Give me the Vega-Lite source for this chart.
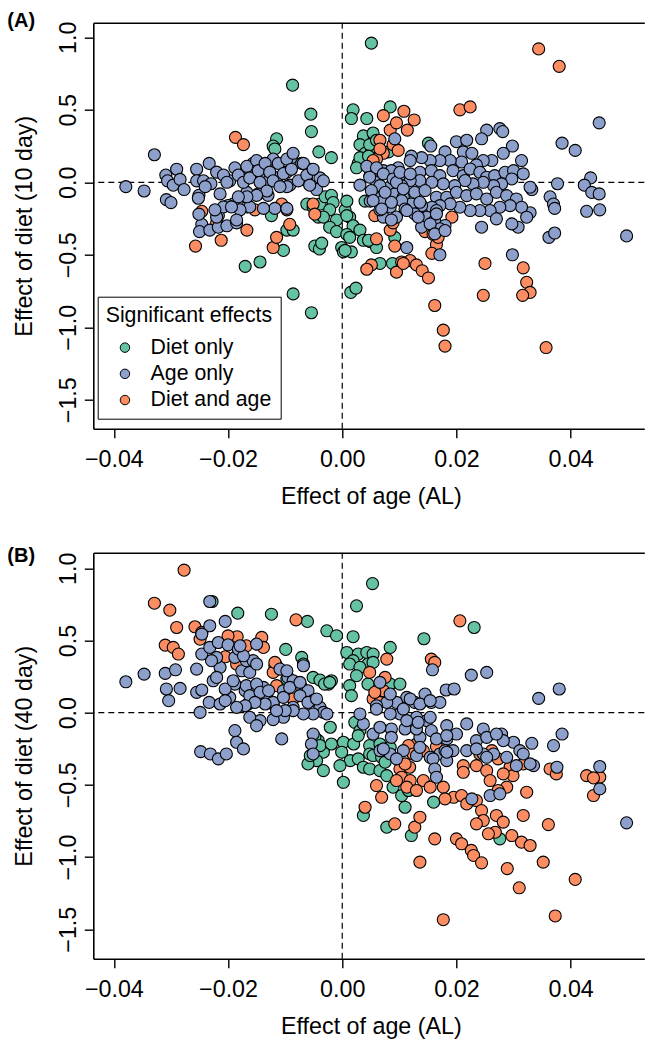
{
"$schema": "https://vega.github.io/schema/vega-lite/v6.json",
"background": "white",
"padding": {"left": 7.3, "top": 10.7, "right": 0, "bottom": 0},
"autosize": {"type": "pad"},
"spacing": 124,
"bounds": "flush",
"config": {"font": "Liberation Sans", "view": {"stroke": null}, "axis": {"grid": false}},
"datasets": {
"a": [
{"age":0.0051,"diet":0.96,"sig":"Diet only"},{"age":-0.0087,"diet":0.67,"sig":"Diet only"},{"age":-0.0055,"diet":0.47,"sig":"Diet only"},{"age":-0.0054,"diet":0.35,"sig":"Diet only"},{"age":-0.0041,"diet":0.21,"sig":"Diet only"},{"age":-0.0115,"diet":0.30,"sig":"Diet only"},{"age":-0.0121,"diet":0.25,"sig":"Diet only"},{"age":-0.0118,"diet":0.23,"sig":"Diet only"},{"age":-0.0124,"diet":-0.23,"sig":"Diet only"},{"age":-0.0097,"diet":-0.33,"sig":"Diet only"},{"age":-0.0086,"diet":-0.33,"sig":"Diet only"},{"age":-0.0103,"diet":-0.47,"sig":"Diet only"},{"age":-0.0062,"diet":-0.15,"sig":"Diet only"},{"age":-0.0042,"diet":-0.24,"sig":"Diet only"},{"age":-0.0048,"diet":-0.44,"sig":"Diet only"},{"age":-0.0040,"diet":-0.46,"sig":"Diet only"},{"age":-0.0036,"diet":-0.42,"sig":"Diet only"},{"age":-0.0144,"diet":-0.55,"sig":"Diet only"},{"age":-0.0170,"diet":-0.58,"sig":"Diet only"},{"age":-0.0086,"diet":-0.77,"sig":"Diet only"},{"age":-0.0054,"diet":-0.90,"sig":"Diet only"},{"age":-0.0019,"diet":0.17,"sig":"Diet only"},{"age":-0.0051,"diet":-0.17,"sig":"Diet only"},{"age":-0.0039,"diet":-0.15,"sig":"Diet only"},{"age":-0.0030,"diet":-0.10,"sig":"Diet only"},{"age":-0.0019,"diet":-0.09,"sig":"Diet only"},{"age":-0.0016,"diet":-0.14,"sig":"Diet only"},{"age":-0.0022,"diet":-0.19,"sig":"Diet only"},{"age":-0.0033,"diet":-0.24,"sig":"Diet only"},{"age":-0.0010,"diet":-0.26,"sig":"Diet only"},{"age":0.0005,"diet":-0.19,"sig":"Diet only"},{"age":0.0008,"diet":-0.13,"sig":"Diet only"},{"age":0.0013,"diet":-0.24,"sig":"Diet only"},{"age":0.0019,"diet":-0.30,"sig":"Diet only"},{"age":-0.0022,"diet":-0.31,"sig":"Diet only"},{"age":-0.0010,"diet":-0.34,"sig":"Diet only"},{"age":0.0008,"diet":-0.36,"sig":"Diet only"},{"age":0.0031,"diet":-0.33,"sig":"Diet only"},{"age":-0.0001,"diet":-0.45,"sig":"Diet only"},{"age":0.0002,"diet":-0.48,"sig":"Diet only"},{"age":0.0016,"diet":-0.48,"sig":"Diet only"},{"age":0.0037,"diet":-0.40,"sig":"Diet only"},{"age":0.0049,"diet":-0.41,"sig":"Diet only"},{"age":0.0060,"diet":-0.45,"sig":"Diet only"},{"age":0.0066,"diet":-0.56,"sig":"Diet only"},{"age":0.0088,"diet":-0.56,"sig":"Diet only"},{"age":0.0019,"diet":0.50,"sig":"Diet only"},{"age":0.0016,"diet":0.44,"sig":"Diet only"},{"age":0.0043,"diet":0.44,"sig":"Diet only"},{"age":0.0084,"diet":0.52,"sig":"Diet only"},{"age":0.0037,"diet":0.32,"sig":"Diet only"},{"age":0.0031,"diet":0.26,"sig":"Diet only"},{"age":0.0040,"diet":0.20,"sig":"Diet only"},{"age":0.0028,"diet":0.13,"sig":"Diet only"},{"age":0.0051,"diet":0.24,"sig":"Diet only"},{"age":0.0054,"diet":0.34,"sig":"Diet only"},{"age":0.0048,"diet":0.26,"sig":"Diet only"},{"age":0.0060,"diet":0.29,"sig":"Diet only"},{"age":0.0031,"diet":0.17,"sig":"Diet only"},{"age":0.0025,"diet":0.10,"sig":"Diet only"},{"age":0.0046,"diet":0.18,"sig":"Diet only"},{"age":0.0081,"diet":0.21,"sig":"Diet only"},{"age":0.0151,"diet":0.27,"sig":"Diet only"},{"age":0.0008,"diet":-0.23,"sig":"Diet only"},{"age":0.0013,"diet":-0.38,"sig":"Diet only"},{"age":0.0046,"diet":-0.40,"sig":"Diet only"},{"age":0.0092,"diet":-0.38,"sig":"Diet only"},{"age":0.0005,"diet":-0.47,"sig":"Diet only"},{"age":0.0040,"diet":-0.13,"sig":"Diet only"},{"age":0.0015,"diet":-0.76,"sig":"Diet only"},{"age":0.0024,"diet":-0.73,"sig":"Diet only"},
{"age":-0.0187,"diet":0.31,"sig":"Diet and age"},{"age":-0.0173,"diet":0.26,"sig":"Diet and age"},{"age":-0.0246,"diet":-0.20,"sig":"Diet and age"},{"age":-0.0220,"diet":-0.28,"sig":"Diet and age"},{"age":-0.0167,"diet":-0.33,"sig":"Diet and age"},{"age":-0.0153,"diet":-0.19,"sig":"Diet and age"},{"age":-0.0212,"diet":-0.40,"sig":"Diet and age"},{"age":-0.0257,"diet":-0.44,"sig":"Diet and age"},{"age":-0.0121,"diet":-0.45,"sig":"Diet and age"},{"age":-0.0115,"diet":-0.38,"sig":"Diet and age"},{"age":-0.0106,"diet":-0.15,"sig":"Diet and age"},{"age":-0.0092,"diet":-0.29,"sig":"Diet and age"},{"age":-0.0051,"diet":-0.15,"sig":"Diet and age"},{"age":-0.0097,"diet":-0.19,"sig":"Diet and age"},{"age":-0.0048,"diet":-0.22,"sig":"Diet and age"},{"age":0.0060,"diet":-0.39,"sig":"Diet and age"},{"age":0.0092,"diet":-0.44,"sig":"Diet and age"},{"age":0.0072,"diet":0.46,"sig":"Diet and age"},{"age":0.0084,"diet":0.36,"sig":"Diet and age"},{"age":0.0095,"diet":0.41,"sig":"Diet and age"},{"age":0.0066,"diet":0.29,"sig":"Diet and age"},{"age":0.0072,"diet":0.20,"sig":"Diet and age"},{"age":0.0060,"diet":0.16,"sig":"Diet and age"},{"age":0.0344,"diet":0.92,"sig":"Diet and age"},{"age":0.0380,"diet":0.80,"sig":"Diet and age"},{"age":0.0108,"diet":0.49,"sig":"Diet and age"},{"age":0.0126,"diet":0.43,"sig":"Diet and age"},{"age":0.0114,"diet":0.36,"sig":"Diet and age"},{"age":0.0206,"diet":0.50,"sig":"Diet and age"},{"age":0.0224,"diet":0.52,"sig":"Diet and age"},{"age":0.0089,"diet":0.26,"sig":"Diet and age"},{"age":0.0098,"diet":0.22,"sig":"Diet and age"},{"age":0.0054,"diet":0.15,"sig":"Diet and age"},{"age":0.0066,"diet":0.23,"sig":"Diet and age"},{"age":0.0057,"diet":-0.23,"sig":"Diet and age"},{"age":0.0084,"diet":-0.33,"sig":"Diet and age"},{"age":0.0089,"diet":-0.28,"sig":"Diet and age"},{"age":0.0139,"diet":-0.25,"sig":"Diet and age"},{"age":0.0145,"diet":-0.34,"sig":"Diet and age"},{"age":0.0159,"diet":-0.36,"sig":"Diet and age"},{"age":0.0165,"diet":-0.43,"sig":"Diet and age"},{"age":0.0168,"diet":-0.38,"sig":"Diet and age"},{"age":0.0157,"diet":-0.49,"sig":"Diet and age"},{"age":0.0192,"diet":-0.24,"sig":"Diet and age"},{"age":0.0119,"diet":-0.54,"sig":"Diet and age"},{"age":0.0104,"diet":-0.55,"sig":"Diet and age"},{"age":0.0130,"diet":-0.57,"sig":"Diet and age"},{"age":0.0051,"diet":-0.57,"sig":"Diet and age"},{"age":0.0250,"diet":-0.56,"sig":"Diet and age"},{"age":0.0317,"diet":-0.59,"sig":"Diet and age"},{"age":0.0043,"diet":-0.60,"sig":"Diet and age"},{"age":0.0095,"diet":-0.62,"sig":"Diet and age"},{"age":0.0107,"diet":-0.56,"sig":"Diet and age"},{"age":0.0140,"diet":-0.61,"sig":"Diet and age"},{"age":0.0151,"diet":-0.66,"sig":"Diet and age"},{"age":0.0162,"diet":-0.85,"sig":"Diet and age"},{"age":0.0177,"diet":-1.02,"sig":"Diet and age"},{"age":0.0180,"diet":-1.13,"sig":"Diet and age"},{"age":0.0247,"diet":-0.78,"sig":"Diet and age"},{"age":0.0323,"diet":-0.69,"sig":"Diet and age"},{"age":0.0329,"diet":-0.76,"sig":"Diet and age"},{"age":0.0316,"diet":-0.78,"sig":"Diet and age"},{"age":0.0357,"diet":-1.14,"sig":"Diet and age"},
{"age":-0.0379,"diet":-0.03,"sig":"Age only"},{"age":-0.0347,"diet":-0.06,"sig":"Age only"},{"age":-0.0329,"diet":0.19,"sig":"Age only"},{"age":-0.0309,"diet":0.05,"sig":"Age only"},{"age":-0.0306,"diet":0.01,"sig":"Age only"},{"age":-0.0296,"diet":-0.02,"sig":"Age only"},{"age":-0.0290,"diet":0.09,"sig":"Age only"},{"age":-0.0284,"diet":0.02,"sig":"Age only"},{"age":-0.0277,"diet":-0.05,"sig":"Age only"},{"age":-0.0308,"diet":-0.12,"sig":"Age only"},{"age":-0.0300,"diet":-0.14,"sig":"Age only"},{"age":-0.0255,"diet":0.09,"sig":"Age only"},{"age":-0.0255,"diet":0.01,"sig":"Age only"},{"age":-0.0243,"diet":0.01,"sig":"Age only"},{"age":-0.0233,"diet":0.13,"sig":"Age only"},{"age":-0.0230,"diet":-0.01,"sig":"Age only"},{"age":-0.0251,"diet":-0.09,"sig":"Age only"},{"age":-0.0246,"diet":-0.29,"sig":"Age only"},{"age":-0.0250,"diet":-0.34,"sig":"Age only"},{"age":-0.0232,"diet":-0.33,"sig":"Age only"},{"age":-0.0217,"diet":-0.31,"sig":"Age only"},{"age":-0.0202,"diet":-0.30,"sig":"Age only"},{"age":-0.0185,"diet":-0.28,"sig":"Age only"},{"age":-0.0214,"diet":-0.08,"sig":"Age only"},{"age":-0.0197,"diet":0.01,"sig":"Age only"},{"age":-0.0191,"diet":-0.15,"sig":"Age only"},{"age":-0.0167,"diet":-0.07,"sig":"Age only"},{"age":-0.0162,"diet":0.06,"sig":"Age only"},{"age":-0.0156,"diet":0.13,"sig":"Age only"},{"age":-0.0144,"diet":0.06,"sig":"Age only"},{"age":-0.0147,"diet":-0.08,"sig":"Age only"},{"age":-0.0132,"diet":0.00,"sig":"Age only"},{"age":-0.0130,"diet":-0.09,"sig":"Age only"},{"age":-0.0121,"diet":0.16,"sig":"Age only"},{"age":-0.0112,"diet":0.13,"sig":"Age only"},{"age":-0.0115,"diet":0.03,"sig":"Age only"},{"age":-0.0097,"diet":0.07,"sig":"Age only"},{"age":-0.0089,"diet":0.17,"sig":"Age only"},{"age":-0.0092,"diet":-0.02,"sig":"Age only"},{"age":-0.0071,"diet":0.13,"sig":"Age only"},{"age":-0.0062,"diet":0.01,"sig":"Age only"},{"age":-0.0054,"diet":0.09,"sig":"Age only"},{"age":-0.0039,"diet":0.03,"sig":"Age only"},{"age":-0.0045,"diet":-0.05,"sig":"Age only"},{"age":-0.0118,"diet":-0.18,"sig":"Age only"},{"age":-0.0097,"diet":-0.18,"sig":"Age only"},{"age":-0.0138,"diet":-0.18,"sig":"Age only"},{"age":-0.0167,"diet":-0.17,"sig":"Age only"},{"age":-0.0200,"diet":-0.16,"sig":"Age only"},{"age":-0.0217,"diet":-0.23,"sig":"Age only"},
{"age":-0.0252,"diet":-0.11,"sig":"Age only"},{"age":-0.0240,"diet":-0.03,"sig":"Age only"},{"age":-0.0220,"diet":0.07,"sig":"Age only"},{"age":-0.0208,"diet":0.05,"sig":"Age only"},{"age":-0.0202,"diet":0.00,"sig":"Age only"},{"age":-0.0188,"diet":0.10,"sig":"Age only"},{"age":-0.0182,"diet":0.05,"sig":"Age only"},{"age":-0.0173,"diet":0.00,"sig":"Age only"},{"age":-0.0167,"diet":0.11,"sig":"Age only"},{"age":-0.0162,"diet":0.03,"sig":"Age only"},{"age":-0.0150,"diet":0.15,"sig":"Age only"},{"age":-0.0147,"diet":0.08,"sig":"Age only"},{"age":-0.0144,"diet":0.00,"sig":"Age only"},{"age":-0.0135,"diet":0.13,"sig":"Age only"},{"age":-0.0127,"diet":0.07,"sig":"Age only"},{"age":-0.0132,"diet":-0.06,"sig":"Age only"},{"age":-0.0121,"diet":0.01,"sig":"Age only"},{"age":-0.0103,"diet":0.06,"sig":"Age only"},{"age":-0.0097,"diet":0.16,"sig":"Age only"},{"age":-0.0089,"diet":0.09,"sig":"Age only"},{"age":-0.0086,"diet":0.20,"sig":"Age only"},{"age":-0.0077,"diet":0.01,"sig":"Age only"},{"age":-0.0068,"diet":0.13,"sig":"Age only"},{"age":-0.0062,"diet":0.05,"sig":"Age only"},{"age":-0.0057,"diet":-0.02,"sig":"Age only"},{"age":-0.0051,"diet":0.09,"sig":"Age only"},{"age":-0.0033,"diet":0.01,"sig":"Age only"},{"age":-0.0097,"diet":-0.03,"sig":"Age only"},{"age":-0.0109,"diet":-0.03,"sig":"Age only"},{"age":-0.0150,"diet":-0.09,"sig":"Age only"},{"age":-0.0162,"diet":-0.17,"sig":"Age only"},{"age":-0.0179,"diet":-0.19,"sig":"Age only"},{"age":-0.0185,"diet":-0.26,"sig":"Age only"},{"age":-0.0220,"diet":-0.24,"sig":"Age only"},{"age":-0.0251,"diet":-0.22,"sig":"Age only"},{"age":-0.0167,"diet":-0.10,"sig":"Age only"},{"age":-0.0182,"diet":-0.10,"sig":"Age only"},{"age":-0.0208,"diet":-0.17,"sig":"Age only"},{"age":-0.0223,"diet":-0.19,"sig":"Age only"},{"age":-0.0194,"diet":-0.17,"sig":"Age only"},
{"age":0.0031,"diet":-0.02,"sig":"Age only"},{"age":0.0049,"diet":0.05,"sig":"Age only"},{"age":0.0060,"diet":0.00,"sig":"Age only"},{"age":0.0072,"diet":0.08,"sig":"Age only"},{"age":0.0084,"diet":-0.03,"sig":"Age only"},{"age":0.0095,"diet":0.03,"sig":"Age only"},{"age":0.0049,"diet":-0.13,"sig":"Age only"},{"age":0.0066,"diet":-0.11,"sig":"Age only"},{"age":0.0084,"diet":-0.17,"sig":"Age only"},{"age":0.0072,"diet":-0.24,"sig":"Age only"},{"age":0.0095,"diet":-0.24,"sig":"Age only"},{"age":0.0066,"diet":-0.19,"sig":"Age only"},{"age":0.0043,"diet":0.11,"sig":"Age only"},{"age":0.0060,"diet":0.10,"sig":"Age only"},
{"age":0.0450,"diet":0.41,"sig":"Age only"},{"age":0.0385,"diet":0.27,"sig":"Age only"},{"age":0.0408,"diet":0.22,"sig":"Age only"},{"age":0.0253,"diet":0.36,"sig":"Age only"},{"age":0.0276,"diet":0.37,"sig":"Age only"},{"age":0.0281,"diet":0.35,"sig":"Age only"},{"age":0.0244,"diet":0.30,"sig":"Age only"},{"age":0.0200,"diet":0.28,"sig":"Age only"},{"age":0.0218,"diet":0.29,"sig":"Age only"},{"age":0.0298,"diet":0.25,"sig":"Age only"},{"age":0.0155,"diet":0.25,"sig":"Age only"},{"age":0.0435,"diet":0.03,"sig":"Age only"},{"age":0.0424,"diet":-0.02,"sig":"Age only"},{"age":0.0437,"diet":-0.07,"sig":"Age only"},{"age":0.0450,"diet":-0.08,"sig":"Age only"},{"age":0.0377,"diet":-0.01,"sig":"Age only"},{"age":0.0332,"diet":-0.05,"sig":"Age only"},{"age":0.0428,"diet":-0.20,"sig":"Age only"},{"age":0.0451,"diet":-0.19,"sig":"Age only"},{"age":0.0364,"diet":-0.10,"sig":"Age only"},{"age":0.0370,"diet":-0.15,"sig":"Age only"},{"age":0.0372,"diet":-0.18,"sig":"Age only"},{"age":0.0498,"diet":-0.37,"sig":"Age only"},{"age":0.0362,"diet":-0.38,"sig":"Age only"},{"age":0.0372,"diet":-0.35,"sig":"Age only"},{"age":0.0244,"diet":-0.31,"sig":"Age only"},{"age":0.0298,"diet":-0.50,"sig":"Age only"},{"age":0.0113,"diet":-0.45,"sig":"Age only"},{"age":0.0308,"diet":-0.31,"sig":"Age only"},{"age":0.0329,"diet":-0.21,"sig":"Age only"},
{"age":0.0180,"diet":0.21,"sig":"Age only"},{"age":0.0212,"diet":0.21,"sig":"Age only"},{"age":0.0227,"diet":0.20,"sig":"Age only"},{"age":0.0282,"diet":0.20,"sig":"Age only"},{"age":0.0314,"diet":0.15,"sig":"Age only"},{"age":0.0262,"diet":0.15,"sig":"Age only"},{"age":0.0247,"diet":0.15,"sig":"Age only"},{"age":0.0235,"diet":0.12,"sig":"Age only"},{"age":0.0209,"diet":0.14,"sig":"Age only"},{"age":0.0189,"diet":0.15,"sig":"Age only"},{"age":0.0171,"diet":0.15,"sig":"Age only"},{"age":0.0154,"diet":0.15,"sig":"Age only"},{"age":0.0139,"diet":0.17,"sig":"Age only"},{"age":0.0121,"diet":0.18,"sig":"Age only"},{"age":0.0119,"diet":0.15,"sig":"Age only"},{"age":0.0098,"diet":0.10,"sig":"Age only"},{"age":0.0086,"diet":0.08,"sig":"Age only"},{"age":0.0048,"diet":0.035,"sig":"Age only"},{"age":0.0072,"diet":0.058,"sig":"Age only"},{"age":0.0089,"diet":0.023,"sig":"Age only"},{"age":0.0110,"diet":0.035,"sig":"Age only"},{"age":0.0121,"diet":0.046,"sig":"Age only"},{"age":0.0136,"diet":0.069,"sig":"Age only"},{"age":0.0156,"diet":0.080,"sig":"Age only"},{"age":0.0171,"diet":0.046,"sig":"Age only"},{"age":0.0194,"diet":0.080,"sig":"Age only"},{"age":0.0212,"diet":0.046,"sig":"Age only"},{"age":0.0224,"diet":0.092,"sig":"Age only"},{"age":0.0241,"diet":0.069,"sig":"Age only"},{"age":0.0253,"diet":0.035,"sig":"Age only"},{"age":0.0267,"diet":0.046,"sig":"Age only"},{"age":0.0285,"diet":0.069,"sig":"Age only"},{"age":0.0300,"diet":0.080,"sig":"Age only"},{"age":0.0297,"diet":0.023,"sig":"Age only"},{"age":0.0317,"diet":0.058,"sig":"Age only"},{"age":0.0279,"diet":-0.011,"sig":"Age only"},{"age":0.0265,"diet":-0.023,"sig":"Age only"},{"age":0.0247,"diet":0.000,"sig":"Age only"},{"age":0.0229,"diet":-0.011,"sig":"Age only"},{"age":0.0215,"diet":0.012,"sig":"Age only"},{"age":0.0197,"diet":-0.023,"sig":"Age only"},{"age":0.0177,"diet":-0.011,"sig":"Age only"},{"age":0.0157,"diet":0.000,"sig":"Age only"},{"age":0.0136,"diet":0.012,"sig":"Age only"},{"age":0.0119,"diet":0.012,"sig":"Age only"},{"age":0.0104,"diet":-0.023,"sig":"Age only"},{"age":0.0066,"diet":-0.023,"sig":"Age only"},{"age":0.0051,"diet":-0.057,"sig":"Age only"},{"age":0.0072,"diet":-0.126,"sig":"Age only"},{"age":0.0092,"diet":-0.080,"sig":"Age only"},{"age":0.0107,"diet":-0.103,"sig":"Age only"},{"age":0.0127,"diet":-0.069,"sig":"Age only"},{"age":0.0145,"diet":-0.057,"sig":"Age only"},{"age":0.0165,"diet":-0.103,"sig":"Age only"},{"age":0.0183,"diet":-0.103,"sig":"Age only"},{"age":0.0200,"diet":-0.069,"sig":"Age only"},{"age":0.0218,"diet":-0.092,"sig":"Age only"},{"age":0.0235,"diet":-0.080,"sig":"Age only"},{"age":0.0253,"diet":-0.115,"sig":"Age only"},{"age":0.0270,"diet":-0.069,"sig":"Age only"},{"age":0.0288,"diet":-0.092,"sig":"Age only"},{"age":0.0305,"diet":-0.115,"sig":"Age only"},{"age":0.0329,"diet":-0.034,"sig":"Age only"},{"age":0.0314,"diet":-0.172,"sig":"Age only"},{"age":0.0294,"diet":-0.161,"sig":"Age only"},{"age":0.0276,"diet":-0.172,"sig":"Age only"},{"age":0.0259,"diet":-0.195,"sig":"Age only"},{"age":0.0241,"diet":-0.195,"sig":"Age only"},{"age":0.0224,"diet":-0.195,"sig":"Age only"},{"age":0.0206,"diet":-0.172,"sig":"Age only"},{"age":0.0189,"diet":-0.149,"sig":"Age only"},{"age":0.0171,"diet":-0.161,"sig":"Age only"},{"age":0.0157,"diet":-0.172,"sig":"Age only"},{"age":0.0139,"diet":-0.161,"sig":"Age only"},{"age":0.0121,"diet":-0.149,"sig":"Age only"},{"age":0.0104,"diet":-0.126,"sig":"Age only"},{"age":0.0086,"diet":-0.138,"sig":"Age only"},{"age":0.0069,"diet":-0.184,"sig":"Age only"},{"age":0.0086,"diet":-0.26,"sig":"Age only"},{"age":0.0110,"diet":-0.184,"sig":"Age only"},{"age":0.0127,"diet":-0.218,"sig":"Age only"},{"age":0.0148,"diet":-0.241,"sig":"Age only"},{"age":0.0165,"diet":-0.195,"sig":"Age only"},{"age":0.0162,"diet":-0.264,"sig":"Age only"},{"age":0.0180,"diet":-0.298,"sig":"Age only"},{"age":0.0171,"diet":-0.321,"sig":"Age only"},{"age":0.0139,"diet":-0.310,"sig":"Age only"},{"age":0.0270,"diet":-0.252,"sig":"Age only"},{"age":0.0297,"diet":-0.287,"sig":"Age only"},{"age":0.0323,"diet":-0.241,"sig":"Age only"},{"age":0.0092,"diet":0.30,"sig":"Age only"},{"age":0.0171,"diet":-0.50,"sig":"Age only"},
{"age":0.0054,"diet":-0.126,"sig":"Age only"},{"age":0.0075,"diet":-0.069,"sig":"Age only"},{"age":0.0095,"diet":0.0,"sig":"Age only"},{"age":0.0107,"diet":-0.046,"sig":"Age only"},{"age":0.0101,"diet":0.069,"sig":"Age only"},{"age":0.0119,"diet":0.058,"sig":"Age only"},{"age":0.0136,"diet":-0.138,"sig":"Age only"},{"age":0.0113,"diet":-0.195,"sig":"Age only"},{"age":0.0133,"diet":-0.24,"sig":"Age only"},{"age":0.0154,"diet":-0.287,"sig":"Age only"},{"age":0.0165,"diet":-0.218,"sig":"Age only"},{"age":0.0162,"diet":-0.356,"sig":"Age only"},{"age":0.0180,"diet":-0.333,"sig":"Age only"}
],
"b": [
{"age":-0.0228,"diet":0.77,"sig":"Diet only"},{"age":-0.0183,"diet":0.689,"sig":"Diet only"},{"age":-0.0124,"diet":0.682,"sig":"Diet only"},{"age":-0.0061,"diet":0.632,"sig":"Diet only"},{"age":-0.0027,"diet":0.567,"sig":"Diet only"},{"age":-0.0099,"diet":0.438,"sig":"Diet only"},{"age":-0.0071,"diet":0.383,"sig":"Diet only"},{"age":-0.0116,"diet":0.332,"sig":"Diet only"},{"age":-0.0051,"diet":0.244,"sig":"Diet only"},{"age":-0.0039,"diet":0.226,"sig":"Diet only"},{"age":-0.0024,"diet":0.198,"sig":"Diet only"},{"age":-0.0042,"diet":-0.194,"sig":"Diet only"},{"age":-0.0048,"diet":-0.263,"sig":"Diet only"},{"age":-0.0033,"diet":-0.274,"sig":"Diet only"},{"age":-0.0045,"diet":-0.332,"sig":"Diet only"},{"age":-0.0060,"diet":-0.355,"sig":"Diet only"},{"age":-0.0033,"diet":-0.401,"sig":"Diet only"},{"age":0.0053,"diet":0.894,"sig":"Diet only"},{"age":0.0025,"diet":0.740,"sig":"Diet only"},{"age":-0.0010,"diet":0.533,"sig":"Diet only"},{"age":0.0019,"diet":0.526,"sig":"Diet only"},{"age":-0.0068,"diet":0.337,"sig":"Diet only"},{"age":0.0008,"diet":0.417,"sig":"Diet only"},{"age":0.0028,"diet":0.406,"sig":"Diet only"},{"age":0.0043,"diet":0.417,"sig":"Diet only"},{"age":0.0054,"diet":0.406,"sig":"Diet only"},{"age":0.0019,"diet":0.36,"sig":"Diet only"},{"age":0.0013,"diet":0.337,"sig":"Diet only"},{"age":0.0045,"diet":0.337,"sig":"Diet only"},{"age":0.0031,"diet":0.314,"sig":"Diet only"},{"age":0.0054,"diet":0.348,"sig":"Diet only"},{"age":0.0084,"diet":0.452,"sig":"Diet only"},{"age":-0.0118,"diet":0.325,"sig":"Diet only"},{"age":-0.0097,"diet":0.233,"sig":"Diet only"},{"age":-0.0031,"diet":0.198,"sig":"Diet only"},{"age":-0.0019,"diet":0.221,"sig":"Diet only"},{"age":0.0013,"diet":0.187,"sig":"Diet only"},{"age":0.0025,"diet":0.256,"sig":"Diet only"},{"age":0.0045,"diet":0.198,"sig":"Diet only"},{"age":0.0084,"diet":0.198,"sig":"Diet only"},{"age":0.0016,"diet":0.118,"sig":"Diet only"},{"age":-0.0021,"diet":-0.101,"sig":"Diet only"},{"age":0.0022,"diet":-0.067,"sig":"Diet only"},{"age":0.0031,"diet":-0.124,"sig":"Diet only"},{"age":-0.0048,"diet":-0.171,"sig":"Diet only"},{"age":-0.0039,"diet":-0.228,"sig":"Diet only"},{"age":-0.0019,"diet":-0.217,"sig":"Diet only"},{"age":0.0002,"diet":-0.205,"sig":"Diet only"},{"age":-0.0001,"diet":-0.274,"sig":"Diet only"},{"age":0.0020,"diet":-0.217,"sig":"Diet only"},{"age":0.0028,"diet":-0.159,"sig":"Diet only"},{"age":0.0048,"diet":-0.228,"sig":"Diet only"},{"age":0.0066,"diet":-0.217,"sig":"Diet only"},{"age":0.0084,"diet":-0.240,"sig":"Diet only"},{"age":0.0048,"diet":-0.286,"sig":"Diet only"},{"age":-0.0056,"diet":-0.297,"sig":"Diet only"},{"age":0.0143,"diet":0.512,"sig":"Diet only"},{"age":0.0231,"diet":0.590,"sig":"Diet only"},{"age":0.0101,"diet":0.198,"sig":"Diet only"},{"age":-0.0022,"diet":0.210,"sig":"Diet only"},{"age":0.0014,"diet":-0.332,"sig":"Diet only"},{"age":0.0028,"diet":-0.320,"sig":"Diet only"},{"age":0.0037,"diet":-0.378,"sig":"Diet only"},{"age":0.0048,"diet":-0.390,"sig":"Diet only"},{"age":0.0066,"diet":-0.401,"sig":"Diet only"},{"age":0.0054,"diet":-0.297,"sig":"Diet only"},{"age":0.0069,"diet":-0.309,"sig":"Diet only"},{"age":0.0075,"diet":-0.343,"sig":"Diet only"},{"age":0.0078,"diet":-0.436,"sig":"Diet only"},{"age":0.0089,"diet":-0.516,"sig":"Diet only"},{"age":0.0104,"diet":-0.574,"sig":"Diet only"},{"age":0.0116,"diet":-0.539,"sig":"Diet only"},{"age":0.0160,"diet":-0.620,"sig":"Diet only"},{"age":0.0110,"diet":-0.655,"sig":"Diet only"},{"age":0.0037,"diet":-0.712,"sig":"Diet only"},{"age":0.0078,"diet":-0.793,"sig":"Diet only"},{"age":0.0121,"diet":-0.851,"sig":"Diet only"},{"age":0.0002,"diet":-0.482,"sig":"Diet only"},{"age":-0.0004,"diet":-0.367,"sig":"Diet only"},{"age":0.0276,"diet":-0.874,"sig":"Diet only"},
{"age":-0.0277,"diet":0.987,"sig":"Diet and age"},{"age":-0.0329,"diet":0.758,"sig":"Diet and age"},{"age":-0.0302,"diet":0.710,"sig":"Diet and age"},{"age":-0.0290,"diet":0.590,"sig":"Diet and age"},{"age":-0.0310,"diet":0.468,"sig":"Diet and age"},{"age":-0.0296,"diet":0.452,"sig":"Diet and age"},{"age":-0.0287,"diet":0.406,"sig":"Diet and age"},{"age":-0.0258,"diet":0.595,"sig":"Diet and age"},{"age":-0.0249,"diet":0.509,"sig":"Diet and age"},{"age":-0.0246,"diet":0.556,"sig":"Diet and age"},{"age":-0.0184,"diet":0.526,"sig":"Diet and age"},{"age":-0.0168,"diet":0.463,"sig":"Diet and age"},{"age":-0.0141,"diet":0.521,"sig":"Diet and age"},{"age":-0.0138,"diet":0.452,"sig":"Diet and age"},{"age":-0.0205,"diet":0.387,"sig":"Diet and age"},{"age":-0.0185,"diet":0.337,"sig":"Diet and age"},{"age":-0.0121,"diet":0.279,"sig":"Diet and age"},{"age":-0.0086,"diet":0.095,"sig":"Diet and age"},{"age":-0.0081,"diet":0.643,"sig":"Diet and age"},{"age":-0.0200,"diet":0.532,"sig":"Diet and age"},{"age":-0.0118,"diet":0.348,"sig":"Diet and age"},{"age":-0.0115,"diet":0.187,"sig":"Diet and age"},{"age":0.0078,"diet":0.371,"sig":"Diet and age"},{"age":0.0048,"diet":0.279,"sig":"Diet and age"},{"age":0.0072,"diet":0.152,"sig":"Diet and age"},{"age":0.0054,"diet":0.095,"sig":"Diet and age"},{"age":0.0066,"diet":0.071,"sig":"Diet and age"},{"age":0.0075,"diet":0.244,"sig":"Diet and age"},{"age":0.0206,"diet":0.636,"sig":"Diet and age"},{"age":0.0156,"diet":0.371,"sig":"Diet and age"},{"age":0.0162,"diet":0.348,"sig":"Diet and age"},{"age":0.0057,"diet":0.141,"sig":"Diet and age"},{"age":0.0165,"diet":-0.235,"sig":"Diet and age"},{"age":0.0130,"diet":-0.217,"sig":"Diet and age"},{"age":0.0262,"diet":-0.263,"sig":"Diet and age"},{"age":0.0364,"diet":-0.390,"sig":"Diet and age"},{"age":0.0428,"diet":-0.436,"sig":"Diet and age"},{"age":0.0451,"diet":-0.447,"sig":"Diet and age"},{"age":0.0212,"diet":-0.367,"sig":"Diet and age"},{"age":0.0235,"diet":-0.367,"sig":"Diet and age"},{"age":0.0101,"diet":-0.390,"sig":"Diet and age"},{"age":0.0118,"diet":-0.378,"sig":"Diet and age"},{"age":0.0294,"diet":-0.378,"sig":"Diet and age"},{"age":0.0299,"diet":-0.436,"sig":"Diet and age"},{"age":0.0116,"diet":-0.228,"sig":"Diet and age"},{"age":0.0124,"diet":-0.286,"sig":"Diet and age"},{"age":0.0142,"diet":-0.263,"sig":"Diet and age"},{"age":0.0110,"diet":-0.355,"sig":"Diet and age"},{"age":0.0104,"diet":-0.447,"sig":"Diet and age"},{"age":0.0095,"diet":-0.470,"sig":"Diet and age"},{"age":0.0119,"diet":-0.470,"sig":"Diet and age"},{"age":0.0142,"diet":-0.470,"sig":"Diet and age"},{"age":0.0113,"diet":-0.516,"sig":"Diet and age"},{"age":0.0130,"diet":-0.539,"sig":"Diet and age"},{"age":0.0154,"diet":-0.516,"sig":"Diet and age"},{"age":0.0177,"diet":-0.516,"sig":"Diet and age"},{"age":0.0195,"diet":-0.586,"sig":"Diet and age"},{"age":0.0180,"diet":-0.597,"sig":"Diet and age"},{"age":0.0209,"diet":-0.574,"sig":"Diet and age"},{"age":0.0218,"diet":-0.632,"sig":"Diet and age"},{"age":0.0235,"diet":-0.609,"sig":"Diet and age"},{"age":0.0244,"diet":-0.678,"sig":"Diet and age"},{"age":0.0247,"diet":-0.747,"sig":"Diet and age"},{"age":0.0235,"diet":-0.770,"sig":"Diet and age"},{"age":0.0212,"diet":-0.413,"sig":"Diet and age"},{"age":0.0253,"diet":-0.401,"sig":"Diet and age"},{"age":0.0273,"diet":-0.320,"sig":"Diet and age"},{"age":0.0241,"diet":-0.286,"sig":"Diet and age"},{"age":0.0282,"diet":-0.424,"sig":"Diet and age"},{"age":0.0288,"diet":-0.516,"sig":"Diet and age"},{"age":0.0323,"diet":-0.551,"sig":"Diet and age"},{"age":0.0273,"diet":-0.539,"sig":"Diet and age"},{"age":0.0259,"diet":-0.470,"sig":"Diet and age"},{"age":0.0317,"diet":-0.355,"sig":"Diet and age"},{"age":0.0375,"diet":-0.424,"sig":"Diet and age"},{"age":0.0440,"diet":-0.452,"sig":"Diet and age"},{"age":0.0440,"diet":-0.574,"sig":"Diet and age"},{"age":0.0060,"diet":-0.505,"sig":"Diet and age"},{"age":0.0069,"diet":-0.586,"sig":"Diet and age"},{"age":0.0040,"diet":-0.655,"sig":"Diet and age"},{"age":0.0092,"diet":-0.770,"sig":"Diet and age"},{"age":0.0127,"diet":-0.793,"sig":"Diet and age"},{"age":0.0136,"diet":-0.724,"sig":"Diet and age"},{"age":0.0162,"diet":-0.874,"sig":"Diet and age"},{"age":0.0200,"diet":-0.874,"sig":"Diet and age"},{"age":0.0209,"diet":-0.908,"sig":"Diet and age"},{"age":0.0226,"diet":-0.954,"sig":"Diet and age"},{"age":0.0230,"diet":-0.989,"sig":"Diet and age"},{"age":0.0244,"diet":-1.040,"sig":"Diet and age"},{"age":0.0270,"diet":-0.712,"sig":"Diet and age"},{"age":0.0282,"diet":-0.758,"sig":"Diet and age"},{"age":0.0268,"diet":-0.828,"sig":"Diet and age"},{"age":0.0256,"diet":-0.839,"sig":"Diet and age"},{"age":0.0297,"diet":-0.851,"sig":"Diet and age"},{"age":0.0314,"diet":-0.897,"sig":"Diet and age"},{"age":0.0329,"diet":-0.920,"sig":"Diet and age"},{"age":0.0317,"diet":-0.712,"sig":"Diet and age"},{"age":0.0361,"diet":-0.775,"sig":"Diet and age"},{"age":0.0352,"diet":-1.035,"sig":"Diet and age"},{"age":0.0136,"diet":-1.035,"sig":"Diet and age"},{"age":0.0289,"diet":-1.080,"sig":"Diet and age"},{"age":0.0177,"diet":-1.434,"sig":"Diet and age"},{"age":0.0373,"diet":-1.408,"sig":"Diet and age"},{"age":0.0408,"diet":-1.155,"sig":"Diet and age"},{"age":0.0310,"diet":-1.213,"sig":"Diet and age"},
{"age":-0.0379,"diet":0.214,"sig":"Age only"},{"age":-0.0347,"diet":0.267,"sig":"Age only"},{"age":-0.0310,"diet":0.272,"sig":"Age only"},{"age":-0.0292,"diet":0.297,"sig":"Age only"},{"age":-0.0308,"diet":0.164,"sig":"Age only"},{"age":-0.0304,"diet":0.083,"sig":"Age only"},{"age":-0.0284,"diet":0.168,"sig":"Age only"},{"age":-0.0255,"diet":0.302,"sig":"Age only"},{"age":-0.0255,"diet":0.141,"sig":"Age only"},{"age":-0.0249,"diet":0.002,"sig":"Age only"},{"age":-0.0246,"diet":0.157,"sig":"Age only"},{"age":-0.0233,"diet":0.071,"sig":"Age only"},{"age":-0.0214,"diet":0.060,"sig":"Age only"},{"age":-0.0226,"diet":0.221,"sig":"Age only"},{"age":-0.0214,"diet":0.314,"sig":"Age only"},{"age":-0.0220,"diet":0.383,"sig":"Age only"},{"age":-0.0229,"diet":0.360,"sig":"Age only"},{"age":-0.0246,"diet":0.406,"sig":"Age only"},{"age":-0.0232,"diet":0.452,"sig":"Age only"},{"age":-0.0232,"diet":0.602,"sig":"Age only"},{"age":-0.0246,"diet":0.544,"sig":"Age only"},{"age":-0.0232,"diet":0.770,"sig":"Age only"},{"age":-0.0205,"diet":0.632,"sig":"Age only"},{"age":-0.0217,"diet":0.486,"sig":"Age only"},{"age":-0.0200,"diet":0.470,"sig":"Age only"},{"age":-0.0188,"diet":0.383,"sig":"Age only"},{"age":-0.0182,"diet":0.440,"sig":"Age only"},{"age":-0.0176,"diet":0.290,"sig":"Age only"},{"age":-0.0168,"diet":0.360,"sig":"Age only"},{"age":-0.0156,"diet":0.360,"sig":"Age only"},{"age":-0.0150,"diet":0.475,"sig":"Age only"},{"age":-0.0188,"diet":0.198,"sig":"Age only"},{"age":-0.0170,"diet":0.152,"sig":"Age only"},{"age":-0.0165,"diet":0.060,"sig":"Age only"},{"age":-0.0156,"diet":0.129,"sig":"Age only"},{"age":-0.0138,"diet":0.175,"sig":"Age only"},{"age":-0.0132,"diet":0.106,"sig":"Age only"},{"age":-0.0121,"diet":0.060,"sig":"Age only"},{"age":-0.0103,"diet":0.152,"sig":"Age only"},{"age":-0.0095,"diet":0.244,"sig":"Age only"},{"age":-0.0109,"diet":0.302,"sig":"Age only"},{"age":-0.0086,"diet":0.221,"sig":"Age only"},{"age":-0.0071,"diet":0.175,"sig":"Age only"},{"age":-0.0060,"diet":0.152,"sig":"Age only"},{"age":-0.0051,"diet":0.083,"sig":"Age only"},{"age":-0.0039,"diet":0.037,"sig":"Age only"},{"age":-0.0086,"diet":0.037,"sig":"Age only"},{"age":-0.0103,"diet":-0.032,"sig":"Age only"},{"age":-0.0121,"diet":-0.048,"sig":"Age only"},{"age":-0.0144,"diet":-0.055,"sig":"Age only"},{"age":-0.0162,"diet":-0.032,"sig":"Age only"},{"age":-0.0150,"diet":-0.090,"sig":"Age only"},{"age":-0.0188,"diet":-0.124,"sig":"Age only"},{"age":-0.0185,"diet":-0.205,"sig":"Age only"},{"age":-0.0173,"diet":-0.251,"sig":"Age only"},{"age":-0.0248,"diet":-0.270,"sig":"Age only"},{"age":-0.0231,"diet":-0.286,"sig":"Age only"},{"age":-0.0217,"diet":-0.320,"sig":"Age only"},{"age":-0.0203,"diet":-0.286,"sig":"Age only"},{"age":-0.0106,"diet":-0.182,"sig":"Age only"},{"age":-0.0068,"diet":0.325,"sig":"Age only"},{"age":-0.0074,"diet":0.118,"sig":"Age only"},{"age":-0.0033,"diet":0.002,"sig":"Age only"},
{"age":-0.0168,"diet":0.187,"sig":"Age only"},{"age":-0.0150,"diet":0.198,"sig":"Age only"},{"age":-0.0162,"diet":0.118,"sig":"Age only"},{"age":-0.0144,"diet":0.141,"sig":"Age only"},{"age":-0.0129,"diet":0.152,"sig":"Age only"},{"age":-0.0121,"diet":0.071,"sig":"Age only"},{"age":-0.0103,"diet":0.106,"sig":"Age only"},{"age":-0.0092,"diet":0.175,"sig":"Age only"},{"age":-0.0074,"diet":0.210,"sig":"Age only"},{"age":-0.0097,"diet":0.290,"sig":"Age only"},{"age":-0.0060,"diet":0.071,"sig":"Age only"},{"age":-0.0045,"diet":0.095,"sig":"Age only"},{"age":-0.0027,"diet":-0.009,"sig":"Age only"},{"age":-0.0051,"diet":-0.009,"sig":"Age only"},{"age":-0.0068,"diet":-0.009,"sig":"Age only"},{"age":-0.0086,"diet":0.014,"sig":"Age only"},{"age":-0.0100,"diet":0.014,"sig":"Age only"},{"age":-0.0115,"diet":0.014,"sig":"Age only"},{"age":-0.0135,"diet":0.060,"sig":"Age only"},{"age":-0.0153,"diet":0.071,"sig":"Age only"},{"age":-0.0170,"diet":0.048,"sig":"Age only"},{"age":-0.0185,"diet":0.037,"sig":"Age only"},{"age":-0.0197,"diet":0.106,"sig":"Age only"},{"age":-0.0205,"diet":0.164,"sig":"Age only"},{"age":-0.0191,"diet":0.221,"sig":"Age only"},{"age":-0.0162,"diet":0.279,"sig":"Age only"},{"age":-0.0150,"diet":0.337,"sig":"Age only"},{"age":-0.0173,"diet":0.394,"sig":"Age only"},{"age":-0.0179,"diet":0.463,"sig":"Age only"},{"age":-0.0205,"diet":0.083,"sig":"Age only"},{"age":-0.0220,"diet":0.244,"sig":"Age only"},{"age":-0.0051,"diet":-0.148,"sig":"Age only"},{"age":-0.0054,"diet":-0.217,"sig":"Age only"},{"age":-0.0051,"diet":-0.286,"sig":"Age only"},
{"age":0.0158,"diet":0.297,"sig":"Age only"},{"age":0.0226,"diet":0.260,"sig":"Age only"},{"age":0.0253,"diet":0.279,"sig":"Age only"},{"age":0.0182,"diet":0.157,"sig":"Age only"},{"age":0.0196,"diet":0.164,"sig":"Age only"},{"age":0.0344,"diet":0.099,"sig":"Age only"},{"age":0.0380,"diet":0.164,"sig":"Age only"},{"age":0.0145,"diet":0.129,"sig":"Age only"},{"age":0.0156,"diet":0.071,"sig":"Age only"},{"age":0.0171,"diet":0.071,"sig":"Age only"},{"age":0.0127,"diet":0.071,"sig":"Age only"},{"age":0.0113,"diet":0.106,"sig":"Age only"},{"age":0.0095,"diet":0.071,"sig":"Age only"},{"age":0.0078,"diet":0.071,"sig":"Age only"},{"age":0.0066,"diet":0.210,"sig":"Age only"},{"age":0.0084,"diet":0.129,"sig":"Age only"},{"age":0.0060,"diet":0.048,"sig":"Age only"},{"age":0.0101,"diet":-0.009,"sig":"Age only"},{"age":0.0130,"diet":-0.032,"sig":"Age only"},{"age":0.0148,"diet":-0.055,"sig":"Age only"},{"age":0.0183,"diet":-0.090,"sig":"Age only"},{"age":0.0218,"diet":-0.078,"sig":"Age only"},{"age":0.0247,"diet":-0.113,"sig":"Age only"},{"age":0.0279,"diet":-0.148,"sig":"Age only"},{"age":0.0300,"diet":-0.205,"sig":"Age only"},{"age":0.0332,"diet":-0.212,"sig":"Age only"},{"age":0.0370,"diet":-0.228,"sig":"Age only"},{"age":0.0385,"diet":-0.148,"sig":"Age only"},{"age":0.0218,"diet":-0.263,"sig":"Age only"},{"age":0.0194,"diet":-0.263,"sig":"Age only"},{"age":0.0171,"diet":-0.286,"sig":"Age only"},{"age":0.0154,"diet":-0.309,"sig":"Age only"},{"age":0.0130,"diet":-0.297,"sig":"Age only"},{"age":0.0107,"diet":-0.263,"sig":"Age only"},{"age":0.0084,"diet":-0.286,"sig":"Age only"},{"age":0.0066,"diet":-0.263,"sig":"Age only"},{"age":0.0054,"diet":-0.148,"sig":"Age only"},{"age":0.0086,"diet":-0.113,"sig":"Age only"},{"age":0.0110,"diet":-0.113,"sig":"Age only"},{"age":0.0136,"diet":-0.171,"sig":"Age only"},{"age":0.0156,"diet":-0.124,"sig":"Age only"},{"age":0.0183,"diet":-0.182,"sig":"Age only"},{"age":0.0200,"diet":-0.148,"sig":"Age only"},{"age":0.0235,"diet":-0.194,"sig":"Age only"},{"age":0.0253,"diet":-0.171,"sig":"Age only"},{"age":0.0282,"diet":-0.194,"sig":"Age only"},{"age":0.0311,"diet":-0.263,"sig":"Age only"},{"age":0.0335,"diet":-0.367,"sig":"Age only"},{"age":0.0376,"diet":-0.378,"sig":"Age only"},{"age":0.0451,"diet":-0.373,"sig":"Age only"},{"age":0.0247,"diet":-0.286,"sig":"Age only"},{"age":0.0265,"diet":-0.286,"sig":"Age only"},{"age":0.0288,"diet":-0.309,"sig":"Age only"},{"age":0.0317,"diet":-0.286,"sig":"Age only"},{"age":0.0183,"diet":-0.332,"sig":"Age only"},{"age":0.0159,"diet":-0.320,"sig":"Age only"},
{"age":0.0270,"diet":-0.148,"sig":"Age only"},{"age":0.0329,"diet":-0.355,"sig":"Age only"},{"age":0.0305,"diet":-0.367,"sig":"Age only"},{"age":0.0253,"diet":-0.309,"sig":"Age only"},{"age":0.0235,"diet":-0.251,"sig":"Age only"},{"age":0.0180,"diet":-0.263,"sig":"Age only"},{"age":0.0136,"diet":-0.240,"sig":"Age only"},{"age":0.0095,"diet":-0.320,"sig":"Age only"},{"age":0.0072,"diet":-0.251,"sig":"Age only"},{"age":0.0086,"diet":-0.171,"sig":"Age only"},{"age":0.0066,"diet":-0.101,"sig":"Age only"},{"age":0.0037,"diet":-0.078,"sig":"Age only"},{"age":0.0031,"diet":-0.009,"sig":"Age only"},{"age":0.0060,"diet":0.025,"sig":"Age only"},{"age":0.0084,"diet":-0.009,"sig":"Age only"},{"age":0.0107,"diet":0.025,"sig":"Age only"},{"age":0.0119,"diet":0.095,"sig":"Age only"},{"age":0.0136,"diet":0.060,"sig":"Age only"},{"age":0.0154,"diet":0.083,"sig":"Age only"},{"age":0.0113,"diet":-0.055,"sig":"Age only"},{"age":0.0130,"diet":-0.113,"sig":"Age only"},{"age":0.0165,"diet":-0.182,"sig":"Age only"},{"age":0.0183,"diet":-0.159,"sig":"Age only"},{"age":0.0183,"diet":-0.274,"sig":"Age only"},{"age":0.0162,"diet":-0.390,"sig":"Age only"},{"age":0.0165,"diet":-0.447,"sig":"Age only"},{"age":0.0227,"diet":-0.597,"sig":"Age only"},{"age":0.0259,"diet":-0.574,"sig":"Age only"},{"age":0.0276,"diet":-0.562,"sig":"Age only"},{"age":0.0451,"diet":-0.528,"sig":"Age only"},{"age":0.0133,"diet":-0.067,"sig":"Age only"},{"age":0.0154,"diet":-0.032,"sig":"Age only"},{"age":0.0498,"diet":-0.763,"sig":"Age only"}
]
},
"vconcat": [
{
"width": 551, "height": 406,
"layer": [
{"data": {"values": [{}]}, "mark": {"type": "rule", "strokeDash": [6, 4], "strokeWidth": 1.2, "color": "black"},
 "encoding": {"x": {"datum": 0, "type": "quantitative", "scale": {"domain": [-0.0436, 0.0529], "nice": false, "zero": false},
  "axis": {"orient": "top", "labels": false, "ticks": false, "domain": true, "title": null, "grid": false, "domainColor": "black", "domainWidth": 1.6, "minExtent": 0, "maxExtent": 0, "offset": 0}}}},
{"data": {"values": [{}]}, "mark": {"type": "rule", "strokeDash": [6, 4], "strokeWidth": 1.2, "color": "black"},
 "encoding": {"y": {"datum": 0, "type": "quantitative", "scale": {"domain": [-1.7, 1.101], "nice": false, "zero": false}, "axis": null}}},
{"data": {"values": [{"label": "(A)"}]}, "mark": {"type": "text", "align": "left", "baseline": "alphabetic", "fontSize": 20, "fontWeight": "bold", "color": "black"},
 "encoding": {"x": {"datum": -0.05866, "type": "quantitative", "scale": {"domain": [-0.0436, 0.0529], "nice": false, "zero": false}, "axis": null},
  "y": {"datum": 1.0686, "type": "quantitative", "scale": {"domain": [-1.7, 1.101], "nice": false, "zero": false}, "axis": null},
  "text": {"field": "label"}}},
{"data": {"name": "a"}, "mark": {"type": "point", "shape": "circle", "filled": true, "size": 145, "opacity": 1, "stroke": "black", "strokeWidth": 1.1},
 "encoding": {
  "x": {"field": "age", "type": "quantitative", "scale": {"domain": [-0.0436, 0.0529], "nice": false, "zero": false},
   "axis": {"orient": "bottom", "values": [-0.04, -0.02, 0, 0.02, 0.04], "format": ".2f", "title": "Effect of age (AL)", "grid": false, "domainColor": "black", "domainWidth": 1.6, "tickColor": "black", "tickWidth": 1.4, "tickSize": 9, "labelFontSize": 23.3, "labelColor": "black", "labelPadding": 11, "labelFlush": false, "labelOverlap": false, "titleFontSize": 23.3, "titleFontWeight": "normal", "titleColor": "black", "titleBaseline": "alphabetic", "titleAlign": "center", "titleX": 277.6, "titleY": 75.3}},
  "y": {"field": "diet", "type": "quantitative", "scale": {"domain": [-1.7, 1.101], "nice": false, "zero": false},
   "axis": {"orient": "left", "values": [-1.5, -1, -0.5, 0, 0.5, 1], "format": ".1f", "title": "Effect of diet (10 day)", "grid": false, "domainColor": "black", "domainWidth": 1.6, "tickColor": "black", "tickWidth": 1.4, "tickSize": 9, "labelFontSize": 23.3, "labelColor": "black", "labelAngle": -90, "labelAlign": "center", "labelBaseline": "alphabetic", "labelPadding": 9, "labelOverlap": false, "titleFontSize": 23.3, "titleFontWeight": "normal", "titleColor": "black", "titleAngle": 270, "titleAlign": "center", "titleBaseline": "alphabetic", "titleX": -61.6, "titleY": 203}},
  "color": {"field": "sig", "type": "nominal", "scale": {"domain": ["Diet only", "Age only", "Diet and age"], "range": ["#66C2A5", "#8DA0CB", "#FC8D62"]},
   "legend": {"title": "Significant effects", "orient": "none", "legendX": 4.4, "legendY": 274, "fillColor": "white", "strokeColor": "black", "padding": 8, "titleFontSize": 21.3, "titleFontWeight": "normal", "titleColor": "black", "titlePadding": 11, "titleLimit": 400, "labelFontSize": 21.3, "labelColor": "black", "labelOffset": 15, "labelLimit": 400, "rowPadding": 4.2, "symbolType": "circle", "symbolSize": 90, "symbolStrokeColor": "black", "symbolStrokeWidth": 1, "symbolOffset": 8.6, "symbolOpacity": 1}}
 }}
],
"resolve": {"axis": {"x": "independent", "y": "independent"}}
},
{
"width": 551, "height": 406,
"layer": [
{"data": {"values": [{}]}, "mark": {"type": "rule", "strokeDash": [6, 4], "strokeWidth": 1.2, "color": "black"},
 "encoding": {"x": {"datum": 0, "type": "quantitative", "scale": {"domain": [-0.0436, 0.0529], "nice": false, "zero": false},
  "axis": {"orient": "top", "labels": false, "ticks": false, "domain": true, "title": null, "grid": false, "domainColor": "black", "domainWidth": 1.6, "minExtent": 0, "maxExtent": 0, "offset": 0}}}},
{"data": {"values": [{}]}, "mark": {"type": "rule", "strokeDash": [6, 4], "strokeWidth": 1.2, "color": "black"},
 "encoding": {"y": {"datum": 0, "type": "quantitative", "scale": {"domain": [-1.704, 1.108], "nice": false, "zero": false}, "axis": null}}},
{"data": {"values": [{"label": "(B)"}]}, "mark": {"type": "text", "align": "left", "baseline": "alphabetic", "fontSize": 20, "fontWeight": "bold", "color": "black"},
 "encoding": {"x": {"datum": -0.05866, "type": "quantitative", "scale": {"domain": [-0.0436, 0.0529], "nice": false, "zero": false}, "axis": null},
  "y": {"datum": 1.0457, "type": "quantitative", "scale": {"domain": [-1.704, 1.108], "nice": false, "zero": false}, "axis": null},
  "text": {"field": "label"}}},
{"data": {"name": "b"}, "mark": {"type": "point", "shape": "circle", "filled": true, "size": 145, "opacity": 1, "stroke": "black", "strokeWidth": 1.1},
 "encoding": {
  "x": {"field": "age", "type": "quantitative", "scale": {"domain": [-0.0436, 0.0529], "nice": false, "zero": false},
   "axis": {"orient": "bottom", "values": [-0.04, -0.02, 0, 0.02, 0.04], "format": ".2f", "title": "Effect of age (AL)", "grid": false, "domainColor": "black", "domainWidth": 1.6, "tickColor": "black", "tickWidth": 1.4, "tickSize": 9, "labelFontSize": 23.3, "labelColor": "black", "labelPadding": 11, "labelFlush": false, "labelOverlap": false, "titleFontSize": 23.3, "titleFontWeight": "normal", "titleColor": "black", "titleBaseline": "alphabetic", "titleAlign": "center", "titleX": 277.6, "titleY": 75.3}},
  "y": {"field": "diet", "type": "quantitative", "scale": {"domain": [-1.704, 1.108], "nice": false, "zero": false},
   "axis": {"orient": "left", "values": [-1.5, -1, -0.5, 0, 0.5, 1], "format": ".1f", "title": "Effect of diet (40 day)", "grid": false, "domainColor": "black", "domainWidth": 1.6, "tickColor": "black", "tickWidth": 1.4, "tickSize": 9, "labelFontSize": 23.3, "labelColor": "black", "labelAngle": -90, "labelAlign": "center", "labelBaseline": "alphabetic", "labelPadding": 9, "labelOverlap": false, "titleFontSize": 23.3, "titleFontWeight": "normal", "titleColor": "black", "titleAngle": 270, "titleAlign": "center", "titleBaseline": "alphabetic", "titleX": -61.6, "titleY": 203}},
  "color": {"field": "sig", "type": "nominal", "scale": {"domain": ["Diet only", "Age only", "Diet and age"], "range": ["#66C2A5", "#8DA0CB", "#FC8D62"]},
   "legend": {"title": "Significant effects", "orient": "none", "legendX": 4.4, "legendY": 274, "fillColor": "white", "strokeColor": "black", "padding": 8, "titleFontSize": 21.3, "titleFontWeight": "normal", "titleColor": "black", "titlePadding": 11, "titleLimit": 400, "labelFontSize": 21.3, "labelColor": "black", "labelOffset": 15, "labelLimit": 400, "rowPadding": 4.2, "symbolType": "circle", "symbolSize": 90, "symbolStrokeColor": "black", "symbolStrokeWidth": 1, "symbolOffset": 8.6, "symbolOpacity": 1}}
 }}
],
"resolve": {"axis": {"x": "independent", "y": "independent"}}
}
]
}
